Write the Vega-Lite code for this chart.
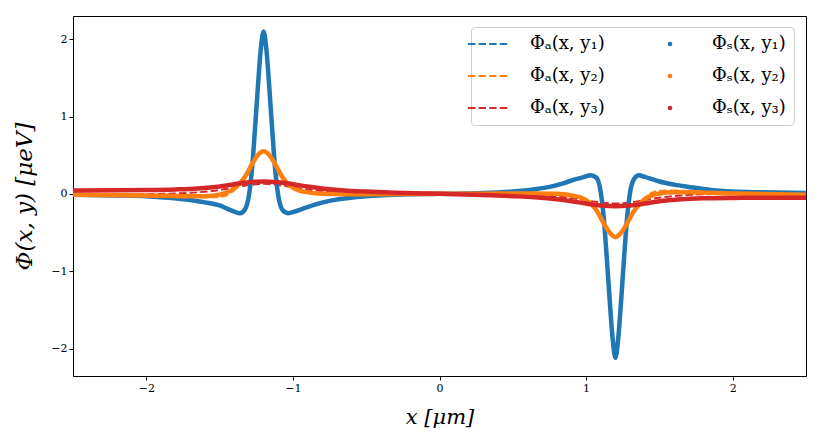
{
  "$schema": "https://vega.github.io/schema/vega-lite/v6.json",
  "width": 733,
  "height": 360,
  "autosize": "none",
  "padding": {"left": 73, "top": 16, "right": 16, "bottom": 66},
  "background": "white",
  "data": {"values": [
    {"s": "a1", "x": -2.5, "y": -0.012}, {"s": "a1", "x": -2.2, "y": -0.022}, {"s": "a1", "x": -2.0, "y": -0.035},
    {"s": "a1", "x": -1.85, "y": -0.055}, {"s": "a1", "x": -1.7, "y": -0.09}, {"s": "a1", "x": -1.6, "y": -0.12},
    {"s": "a1", "x": -1.5, "y": -0.16}, {"s": "a1", "x": -1.45, "y": -0.195}, {"s": "a1", "x": -1.4, "y": -0.23},
    {"s": "a1", "x": -1.36, "y": -0.25}, {"s": "a1", "x": -1.33, "y": -0.21}, {"s": "a1", "x": -1.3, "y": -0.02},
    {"s": "a1", "x": -1.28, "y": 0.3}, {"s": "a1", "x": -1.26, "y": 0.8}, {"s": "a1", "x": -1.24, "y": 1.35},
    {"s": "a1", "x": -1.22, "y": 1.85}, {"s": "a1", "x": -1.2, "y": 2.08}, {"s": "a1", "x": -1.18, "y": 1.85},
    {"s": "a1", "x": -1.16, "y": 1.35}, {"s": "a1", "x": -1.14, "y": 0.8}, {"s": "a1", "x": -1.12, "y": 0.3},
    {"s": "a1", "x": -1.1, "y": -0.02}, {"s": "a1", "x": -1.07, "y": -0.21}, {"s": "a1", "x": -1.03, "y": -0.25},
    {"s": "a1", "x": -0.99, "y": -0.23}, {"s": "a1", "x": -0.93, "y": -0.19}, {"s": "a1", "x": -0.85, "y": -0.14},
    {"s": "a1", "x": -0.75, "y": -0.09}, {"s": "a1", "x": -0.65, "y": -0.06}, {"s": "a1", "x": -0.5, "y": -0.03},
    {"s": "a1", "x": -0.3, "y": -0.01}, {"s": "a1", "x": 0, "y": 0},
    {"s": "a1", "x": 0.3, "y": 0.01}, {"s": "a1", "x": 0.5, "y": 0.03}, {"s": "a1", "x": 0.65, "y": 0.06},
    {"s": "a1", "x": 0.75, "y": 0.09}, {"s": "a1", "x": 0.85, "y": 0.14}, {"s": "a1", "x": 0.93, "y": 0.19},
    {"s": "a1", "x": 0.99, "y": 0.22}, {"s": "a1", "x": 1.03, "y": 0.24}, {"s": "a1", "x": 1.07, "y": 0.21},
    {"s": "a1", "x": 1.1, "y": 0.02}, {"s": "a1", "x": 1.12, "y": -0.3}, {"s": "a1", "x": 1.14, "y": -0.8},
    {"s": "a1", "x": 1.16, "y": -1.35}, {"s": "a1", "x": 1.18, "y": -1.85}, {"s": "a1", "x": 1.2, "y": -2.1},
    {"s": "a1", "x": 1.22, "y": -1.85}, {"s": "a1", "x": 1.24, "y": -1.35}, {"s": "a1", "x": 1.26, "y": -0.8},
    {"s": "a1", "x": 1.28, "y": -0.3}, {"s": "a1", "x": 1.3, "y": 0.02}, {"s": "a1", "x": 1.33, "y": 0.2},
    {"s": "a1", "x": 1.36, "y": 0.24}, {"s": "a1", "x": 1.4, "y": 0.225}, {"s": "a1", "x": 1.45, "y": 0.195},
    {"s": "a1", "x": 1.5, "y": 0.165}, {"s": "a1", "x": 1.6, "y": 0.13}, {"s": "a1", "x": 1.7, "y": 0.1},
    {"s": "a1", "x": 1.85, "y": 0.06}, {"s": "a1", "x": 2.0, "y": 0.035}, {"s": "a1", "x": 2.2, "y": 0.02},
    {"s": "a1", "x": 2.5, "y": 0.01},

    {"s": "a2", "x": -2.5, "y": -0.012}, {"s": "a2", "x": -2.0, "y": -0.02}, {"s": "a2", "x": -1.7, "y": -0.035},
    {"s": "a2", "x": -1.6, "y": -0.045}, {"s": "a2", "x": -1.5, "y": -0.04}, {"s": "a2", "x": -1.45, "y": -0.015},
    {"s": "a2", "x": -1.4, "y": 0.05}, {"s": "a2", "x": -1.36, "y": 0.13}, {"s": "a2", "x": -1.32, "y": 0.23},
    {"s": "a2", "x": -1.28, "y": 0.37}, {"s": "a2", "x": -1.24, "y": 0.49}, {"s": "a2", "x": -1.2, "y": 0.54},
    {"s": "a2", "x": -1.16, "y": 0.49}, {"s": "a2", "x": -1.12, "y": 0.37}, {"s": "a2", "x": -1.08, "y": 0.23},
    {"s": "a2", "x": -1.04, "y": 0.13}, {"s": "a2", "x": -1.0, "y": 0.07}, {"s": "a2", "x": -0.95, "y": 0.035},
    {"s": "a2", "x": -0.9, "y": 0.015}, {"s": "a2", "x": -0.8, "y": 0.0}, {"s": "a2", "x": -0.6, "y": -0.005},
    {"s": "a2", "x": -0.3, "y": -0.002}, {"s": "a2", "x": 0, "y": 0},
    {"s": "a2", "x": 0.3, "y": 0.002}, {"s": "a2", "x": 0.6, "y": 0.005}, {"s": "a2", "x": 0.8, "y": 0.0},
    {"s": "a2", "x": 0.9, "y": -0.015}, {"s": "a2", "x": 0.95, "y": -0.035}, {"s": "a2", "x": 1.0, "y": -0.07},
    {"s": "a2", "x": 1.04, "y": -0.13}, {"s": "a2", "x": 1.08, "y": -0.23}, {"s": "a2", "x": 1.12, "y": -0.37},
    {"s": "a2", "x": 1.16, "y": -0.49}, {"s": "a2", "x": 1.2, "y": -0.55}, {"s": "a2", "x": 1.24, "y": -0.49},
    {"s": "a2", "x": 1.28, "y": -0.37}, {"s": "a2", "x": 1.32, "y": -0.23}, {"s": "a2", "x": 1.36, "y": -0.13},
    {"s": "a2", "x": 1.4, "y": -0.05}, {"s": "a2", "x": 1.45, "y": 0.015}, {"s": "a2", "x": 1.5, "y": 0.04},
    {"s": "a2", "x": 1.6, "y": 0.045}, {"s": "a2", "x": 1.7, "y": 0.035}, {"s": "a2", "x": 2.0, "y": 0.02},
    {"s": "a2", "x": 2.5, "y": 0.006},

    {"s": "a3", "x": -2.5, "y": -0.012}, {"s": "a3", "x": -2.2, "y": -0.01}, {"s": "a3", "x": -2.0, "y": -0.005},
    {"s": "a3", "x": -1.8, "y": 0.005}, {"s": "a3", "x": -1.65, "y": 0.02}, {"s": "a3", "x": -1.5, "y": 0.05},
    {"s": "a3", "x": -1.4, "y": 0.085}, {"s": "a3", "x": -1.3, "y": 0.115}, {"s": "a3", "x": -1.2, "y": 0.13},
    {"s": "a3", "x": -1.1, "y": 0.115}, {"s": "a3", "x": -1.0, "y": 0.085}, {"s": "a3", "x": -0.9, "y": 0.055},
    {"s": "a3", "x": -0.8, "y": 0.035}, {"s": "a3", "x": -0.65, "y": 0.02}, {"s": "a3", "x": -0.5, "y": 0.01},
    {"s": "a3", "x": -0.3, "y": 0.005}, {"s": "a3", "x": 0, "y": 0},
    {"s": "a3", "x": 0.3, "y": -0.005}, {"s": "a3", "x": 0.5, "y": -0.01}, {"s": "a3", "x": 0.65, "y": -0.02},
    {"s": "a3", "x": 0.8, "y": -0.035}, {"s": "a3", "x": 0.9, "y": -0.055}, {"s": "a3", "x": 1.0, "y": -0.085},
    {"s": "a3", "x": 1.1, "y": -0.11}, {"s": "a3", "x": 1.2, "y": -0.125}, {"s": "a3", "x": 1.3, "y": -0.11},
    {"s": "a3", "x": 1.4, "y": -0.08}, {"s": "a3", "x": 1.5, "y": -0.05}, {"s": "a3", "x": 1.65, "y": -0.02},
    {"s": "a3", "x": 1.8, "y": -0.005}, {"s": "a3", "x": 2.0, "y": 0.0}, {"s": "a3", "x": 2.2, "y": 0.002},
    {"s": "a3", "x": 2.5, "y": 0.003},

    {"s": "s1", "x": -2.5, "y": -0.01}, {"s": "s1", "x": -2.2, "y": -0.02}, {"s": "s1", "x": -2.0, "y": -0.03},
    {"s": "s1", "x": -1.85, "y": -0.05}, {"s": "s1", "x": -1.7, "y": -0.08}, {"s": "s1", "x": -1.6, "y": -0.11},
    {"s": "s1", "x": -1.5, "y": -0.15}, {"s": "s1", "x": -1.45, "y": -0.19}, {"s": "s1", "x": -1.4, "y": -0.23},
    {"s": "s1", "x": -1.36, "y": -0.25}, {"s": "s1", "x": -1.33, "y": -0.21}, {"s": "s1", "x": -1.3, "y": -0.02},
    {"s": "s1", "x": -1.28, "y": 0.3}, {"s": "s1", "x": -1.26, "y": 0.8}, {"s": "s1", "x": -1.24, "y": 1.35},
    {"s": "s1", "x": -1.22, "y": 1.85}, {"s": "s1", "x": -1.2, "y": 2.1}, {"s": "s1", "x": -1.18, "y": 1.85},
    {"s": "s1", "x": -1.16, "y": 1.35}, {"s": "s1", "x": -1.14, "y": 0.8}, {"s": "s1", "x": -1.12, "y": 0.3},
    {"s": "s1", "x": -1.1, "y": -0.02}, {"s": "s1", "x": -1.07, "y": -0.21}, {"s": "s1", "x": -1.03, "y": -0.25},
    {"s": "s1", "x": -0.99, "y": -0.23}, {"s": "s1", "x": -0.93, "y": -0.19}, {"s": "s1", "x": -0.85, "y": -0.14},
    {"s": "s1", "x": -0.75, "y": -0.09}, {"s": "s1", "x": -0.65, "y": -0.06}, {"s": "s1", "x": -0.5, "y": -0.03},
    {"s": "s1", "x": -0.3, "y": -0.01}, {"s": "s1", "x": 0, "y": 0},
    {"s": "s1", "x": 0.3, "y": 0.01}, {"s": "s1", "x": 0.5, "y": 0.03}, {"s": "s1", "x": 0.65, "y": 0.06},
    {"s": "s1", "x": 0.75, "y": 0.09}, {"s": "s1", "x": 0.85, "y": 0.14}, {"s": "s1", "x": 0.93, "y": 0.19},
    {"s": "s1", "x": 0.99, "y": 0.22}, {"s": "s1", "x": 1.03, "y": 0.24}, {"s": "s1", "x": 1.07, "y": 0.21},
    {"s": "s1", "x": 1.1, "y": 0.02}, {"s": "s1", "x": 1.12, "y": -0.3}, {"s": "s1", "x": 1.14, "y": -0.8},
    {"s": "s1", "x": 1.16, "y": -1.35}, {"s": "s1", "x": 1.18, "y": -1.85}, {"s": "s1", "x": 1.2, "y": -2.12},
    {"s": "s1", "x": 1.22, "y": -1.85}, {"s": "s1", "x": 1.24, "y": -1.35}, {"s": "s1", "x": 1.26, "y": -0.8},
    {"s": "s1", "x": 1.28, "y": -0.3}, {"s": "s1", "x": 1.3, "y": 0.02}, {"s": "s1", "x": 1.33, "y": 0.2},
    {"s": "s1", "x": 1.36, "y": 0.24}, {"s": "s1", "x": 1.4, "y": 0.22}, {"s": "s1", "x": 1.45, "y": 0.19},
    {"s": "s1", "x": 1.5, "y": 0.16}, {"s": "s1", "x": 1.6, "y": 0.12}, {"s": "s1", "x": 1.7, "y": 0.09},
    {"s": "s1", "x": 1.85, "y": 0.05}, {"s": "s1", "x": 2.0, "y": 0.03}, {"s": "s1", "x": 2.2, "y": 0.02},
    {"s": "s1", "x": 2.5, "y": 0.01},

    {"s": "s2", "x": -2.5, "y": -0.01}, {"s": "s2", "x": -2.0, "y": -0.02}, {"s": "s2", "x": -1.7, "y": -0.03},
    {"s": "s2", "x": -1.6, "y": -0.03}, {"s": "s2", "x": -1.5, "y": -0.01}, {"s": "s2", "x": -1.45, "y": 0.02},
    {"s": "s2", "x": -1.4, "y": 0.07}, {"s": "s2", "x": -1.36, "y": 0.14}, {"s": "s2", "x": -1.32, "y": 0.24},
    {"s": "s2", "x": -1.28, "y": 0.38}, {"s": "s2", "x": -1.24, "y": 0.5}, {"s": "s2", "x": -1.2, "y": 0.55},
    {"s": "s2", "x": -1.16, "y": 0.5}, {"s": "s2", "x": -1.12, "y": 0.38}, {"s": "s2", "x": -1.08, "y": 0.24},
    {"s": "s2", "x": -1.04, "y": 0.14}, {"s": "s2", "x": -1.0, "y": 0.08}, {"s": "s2", "x": -0.95, "y": 0.04},
    {"s": "s2", "x": -0.9, "y": 0.02}, {"s": "s2", "x": -0.8, "y": 0.0}, {"s": "s2", "x": -0.6, "y": -0.005},
    {"s": "s2", "x": -0.3, "y": -0.002}, {"s": "s2", "x": 0, "y": 0},
    {"s": "s2", "x": 0.3, "y": 0.002}, {"s": "s2", "x": 0.6, "y": 0.005}, {"s": "s2", "x": 0.8, "y": 0.0},
    {"s": "s2", "x": 0.9, "y": -0.02}, {"s": "s2", "x": 0.95, "y": -0.04}, {"s": "s2", "x": 1.0, "y": -0.08},
    {"s": "s2", "x": 1.04, "y": -0.14}, {"s": "s2", "x": 1.08, "y": -0.24}, {"s": "s2", "x": 1.12, "y": -0.38},
    {"s": "s2", "x": 1.16, "y": -0.5}, {"s": "s2", "x": 1.2, "y": -0.56}, {"s": "s2", "x": 1.24, "y": -0.5},
    {"s": "s2", "x": 1.28, "y": -0.38}, {"s": "s2", "x": 1.32, "y": -0.24}, {"s": "s2", "x": 1.36, "y": -0.14},
    {"s": "s2", "x": 1.4, "y": -0.07}, {"s": "s2", "x": 1.45, "y": -0.02}, {"s": "s2", "x": 1.5, "y": 0.005},
    {"s": "s2", "x": 1.6, "y": 0.02}, {"s": "s2", "x": 1.7, "y": 0.02}, {"s": "s2", "x": 2.0, "y": 0.005},
    {"s": "s2", "x": 2.5, "y": -0.01},

    {"s": "s3", "x": -2.5, "y": 0.045}, {"s": "s3", "x": -2.2, "y": 0.047}, {"s": "s3", "x": -2.0, "y": 0.05},
    {"s": "s3", "x": -1.8, "y": 0.058}, {"s": "s3", "x": -1.65, "y": 0.07}, {"s": "s3", "x": -1.5, "y": 0.095},
    {"s": "s3", "x": -1.4, "y": 0.125}, {"s": "s3", "x": -1.3, "y": 0.15}, {"s": "s3", "x": -1.2, "y": 0.16},
    {"s": "s3", "x": -1.1, "y": 0.15}, {"s": "s3", "x": -1.0, "y": 0.125}, {"s": "s3", "x": -0.9, "y": 0.095},
    {"s": "s3", "x": -0.8, "y": 0.07}, {"s": "s3", "x": -0.65, "y": 0.045}, {"s": "s3", "x": -0.5, "y": 0.03},
    {"s": "s3", "x": -0.3, "y": 0.015}, {"s": "s3", "x": 0, "y": 0},
    {"s": "s3", "x": 0.3, "y": -0.015}, {"s": "s3", "x": 0.5, "y": -0.03}, {"s": "s3", "x": 0.65, "y": -0.045},
    {"s": "s3", "x": 0.8, "y": -0.07}, {"s": "s3", "x": 0.9, "y": -0.095}, {"s": "s3", "x": 1.0, "y": -0.125},
    {"s": "s3", "x": 1.1, "y": -0.15}, {"s": "s3", "x": 1.2, "y": -0.16}, {"s": "s3", "x": 1.3, "y": -0.15},
    {"s": "s3", "x": 1.4, "y": -0.125}, {"s": "s3", "x": 1.5, "y": -0.095}, {"s": "s3", "x": 1.65, "y": -0.07},
    {"s": "s3", "x": 1.8, "y": -0.058}, {"s": "s3", "x": 2.0, "y": -0.052}, {"s": "s3", "x": 2.2, "y": -0.05},
    {"s": "s3", "x": 2.5, "y": -0.05}
  ]},
  "encoding": {
    "x": {
      "field": "x", "type": "quantitative",
      "scale": {"domain": [-2.5, 2.5], "nice": false, "zero": false},
      "axis": {"values": [-2, -1, 0, 1, 2], "title": "x [μm]", "titlePadding": 13}
    },
    "y": {
      "field": "y", "type": "quantitative",
      "scale": {"domain": [-2.355, 2.3], "nice": false, "zero": false},
      "axis": {"values": [-2, -1, 0, 1, 2], "title": "Φ(x, y) [μeV]", "titlePadding": 14, "titleFontSize": 23}
    },
    "stroke": {
      "field": "s", "type": "nominal",
      "scale": {
        "domain": ["a1", "a2", "a3", "s1", "s2", "s3"],
        "range": ["#1f77b4", "#ff7f0e", "#d62728", "#1f77b4", "#ff7f0e", "#d62728"]
      },
      "legend": {
        "orient": "none",
        "legendX": 398,
        "legendY": 11,
        "columns": 2,
        "title": null,
        "labelExpr": "datum.value == 'a1' ? 'Φₐ(x, y₁)' : datum.value == 'a2' ? 'Φₐ(x, y₂)' : datum.value == 'a3' ? 'Φₐ(x, y₃)' : datum.value == 's1' ? 'Φₛ(x, y₁)' : datum.value == 's2' ? 'Φₛ(x, y₂)' : 'Φₛ(x, y₃)'",
        "labelFont": "DejaVu Serif",
        "labelFontSize": 18,
        "labelColor": "black",
        "labelOffset": 33,
        "symbolType": "stroke",
        "symbolSize": 1600,
        "symbolStrokeWidth": 2,
        "symbolDash": [7.4, 3.2],
        "padding": 8,
        "rowPadding": 14,
        "columnPadding": 56,
        "fillColor": "rgba(255,255,255,0.8)",
        "strokeColor": "#cccccc",
        "cornerRadius": 4,
        "encode": {
          "symbols": {
            "update": {
              "shape": {"signal": "substring(datum.value, 0, 1) == 's' ? 'circle' : 'stroke'"},
              "size": {"signal": "substring(datum.value, 0, 1) == 's' ? 22 : 1600"},
              "strokeWidth": {"signal": "substring(datum.value, 0, 1) == 's' ? 0 : 2"},
              "strokeDash": {"signal": "substring(datum.value, 0, 1) == 's' ? [1, 0] : [7.4, 3.2]"},
              "fill": {"signal": "datum.value == 's1' ? '#1f77b4' : datum.value == 's2' ? '#ff7f0e' : datum.value == 's3' ? '#d62728' : 'transparent'"}
            }
          }
        }
      }
    }
  },
  "layer": [
    {
      "transform": [{"filter": "substring(datum.s, 0, 1) == 'a'"}],
      "mark": {"type": "line", "strokeWidth": 2, "strokeDash": [7.4, 3.2], "interpolate": "monotone", "clip": true}
    },
    {
      "transform": [{"filter": "substring(datum.s, 0, 1) == 's'"}],
      "mark": {"type": "line", "strokeWidth": 4.5, "interpolate": "monotone", "clip": true}
    }
  ],
  "config": {
    "view": {"stroke": "black", "strokeWidth": 1},
    "axis": {
      "grid": false,
      "domainColor": "black",
      "tickColor": "black",
      "tickSize": 4,
      "labelFont": "DejaVu Serif",
      "labelFontSize": 11,
      "labelColor": "black",
      "titleFont": "DejaVu Serif",
      "titleFontSize": 21,
      "titleFontWeight": "normal",
      "titleFontStyle": "italic",
      "titleColor": "black"
    }
  }
}
